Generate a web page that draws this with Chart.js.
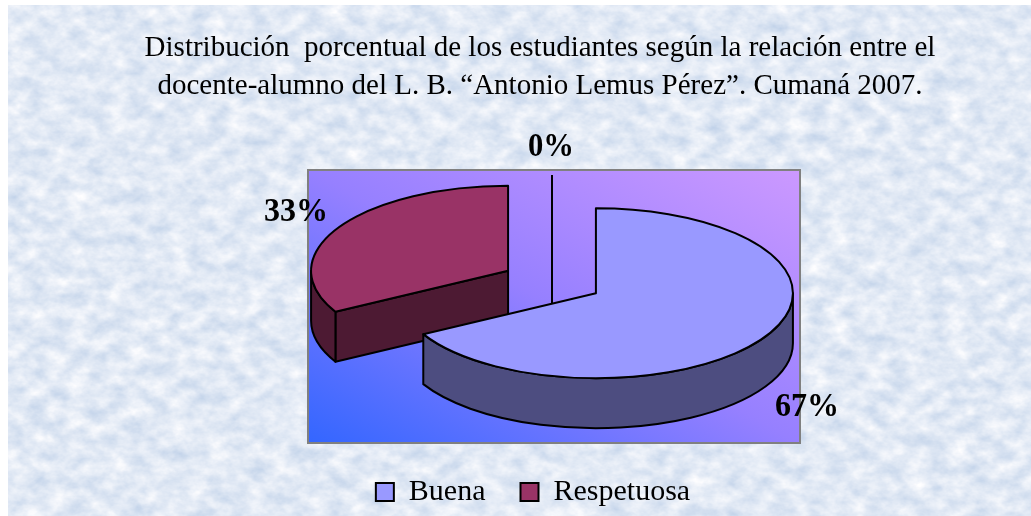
<!DOCTYPE html>
<html lang="es">
<head>
<meta charset="utf-8">
<title>Distribución porcentual</title>
<script src="https://cdn.jsdelivr.net/npm/chart.js@4"></script>
<style>
html,body{margin:0;padding:0;background:#fff;width:1031px;height:516px;overflow:hidden}
#bg{position:absolute;left:8px;top:5px;width:1023px;height:511px}
#wrap{position:absolute;left:0;top:0;width:1031px;height:516px}
</style>
</head>
<body>
<svg id="bg" xmlns="http://www.w3.org/2000/svg" width="1023" height="511">
  <filter id="mottle" x="0" y="0" width="100%" height="100%" color-interpolation-filters="sRGB">
    <feTurbulence type="fractalNoise" baseFrequency="0.05 0.07" numOctaves="4" seed="7"/>
    <feColorMatrix type="matrix" values="0.28 0 0 0 0.745  0.2 0 0 0 0.815  0.1 0 0 0 0.91  0 0 0 0 1"/>
  </filter>
  <rect width="1023" height="511" filter="url(#mottle)"/>
</svg>
<div id="wrap"><canvas id="c" width="1031" height="516"></canvas></div>
<script>
const titleLines = [
  'Distribución  porcentual de los estudiantes según la relación entre el',
  'docente-alumno del L. B. “Antonio Lemus Pérez”. Cumaná 2007.'
];
const categories = ['Buena', 'Respetuosa', ''];
const values = [67, 33, 0];
const sliceColors = ['#9999ff', '#993366', '#ffffff'];
const wallColors = ['#4d4d80', '#4d1a33', '#808080'];

const frame = {left: 308, top: 170, right: 800, bottom: 443};
const pie = {cx: 552, cy: 282, rx: 197, ry: 85, depth: 50, explode: 0.259};
const labelShift = [[211, 114], [-212, -59], [-1, -113]];
const labelWidth = [64, 64, 46];
const drawOrder = [2, 1, 0];

function sliceCentre(el) {
  const mid = (el.startAngle + el.endAngle) / 2;
  return {
    x: pie.cx + pie.rx * pie.explode * Math.cos(mid),
    y: pie.cy + pie.ry * pie.explode * Math.sin(mid)
  };
}

const pie3d = {
  id: 'pie3d',
  beforeDatasetsDraw(chart) {
    const ctx = chart.ctx;
    const w = frame.right - frame.left, h = frame.bottom - frame.top;
    const mx = frame.left + w / 2, my = frame.top + h / 2;
    const len = Math.hypot(w, h);
    const dx = h / len, dy = -w / len;
    const reach = Math.abs(-w / 2 * dx + h / 2 * dy);
    const g = ctx.createLinearGradient(mx - dx * reach, my - dy * reach, mx + dx * reach, my + dy * reach);
    g.addColorStop(0, '#3366ff');
    g.addColorStop(0.5, '#9680ff');
    g.addColorStop(1, '#cc99ff');
    ctx.save();
    ctx.fillStyle = g;
    ctx.fillRect(frame.left, frame.top, w, h);
    ctx.strokeStyle = '#808080';
    ctx.lineWidth = 2;
    ctx.strokeRect(frame.left, frame.top, w, h);

    ctx.strokeStyle = '#000';
    ctx.lineWidth = 2;
    ctx.lineJoin = 'round';
    const arcs = chart.getDatasetMeta(0).data;
    drawOrder.forEach(i => {
      const el = arcs[i];
      const c = sliceCentre(el);
      const a0 = el.startAngle, a1 = el.endAngle;
      if (a1 - a0 < 1e-6) {
        ctx.beginPath();
        ctx.moveTo(c.x + pie.rx * Math.cos(a0), c.y + pie.ry * Math.sin(a0));
        ctx.lineTo(c.x, c.y);
        ctx.lineTo(c.x, c.y + pie.depth);
        ctx.stroke();
        return;
      }
      ctx.fillStyle = wallColors[i];
      const startFront = Math.sin(a0) > 0 && Math.cos(a0) < 0;
      if (startFront) {
        const px = c.x + pie.rx * Math.cos(a0), py = c.y + pie.ry * Math.sin(a0);
        ctx.beginPath();
        ctx.moveTo(c.x, c.y);
        ctx.lineTo(px, py);
        ctx.lineTo(px, py + pie.depth);
        ctx.lineTo(c.x, c.y + pie.depth);
        ctx.closePath();
        ctx.fill();
        ctx.stroke();
      }
      const lo = Math.max(a0, 0), hi = Math.min(a1, Math.PI);
      if (hi > lo) {
        ctx.beginPath();
        ctx.ellipse(c.x, c.y, pie.rx, pie.ry, 0, lo, hi, false);
        ctx.ellipse(c.x, c.y + pie.depth, pie.rx, pie.ry, 0, hi, lo, true);
        ctx.closePath();
        ctx.fill();
        ctx.stroke();
      }
      ctx.fillStyle = sliceColors[i];
      ctx.beginPath();
      ctx.moveTo(c.x, c.y);
      ctx.ellipse(c.x, c.y, pie.rx, pie.ry, 0, a0, a1, false);
      ctx.closePath();
      ctx.fill();
      ctx.stroke();
    });
    ctx.restore();
    return false;
  },
  afterDraw(chart) {
    const ctx = chart.ctx;
    const arcs = chart.getDatasetMeta(0).data;
    ctx.save();
    ctx.font = 'bold 34px "Liberation Serif"';
    ctx.fillStyle = '#000';
    ctx.textAlign = 'center';
    ctx.textBaseline = 'middle';
    arcs.forEach((el, i) => {
      const c = sliceCentre(el);
      ctx.fillText(values[i] + '%', c.x + labelShift[i][0], c.y + labelShift[i][1], labelWidth[i]);
    });
    ctx.restore();
  },
  afterLayout(chart) {
    chart.legend.left -= 7;
    chart.legend.right -= 7;
    chart.legend.top += 5;
    chart.legend.bottom += 5;
  }
};

new Chart(document.getElementById('c'), {
  type: 'pie',
  data: {
    labels: categories,
    datasets: [{
      data: values,
      backgroundColor: sliceColors,
      borderColor: '#000',
      borderWidth: 2
    }]
  },
  plugins: [pie3d],
  options: {
    responsive: false,
    animation: false,
    layout: {padding: {left: 49, top: 29, bottom: 4}},
    plugins: {
      tooltip: {enabled: false},
      title: {
        display: true,
        text: titleLines,
        color: '#000',
        font: {family: '"Liberation Serif"', size: 29, weight: 'normal', lineHeight: 1.31},
        padding: 0
      },
      legend: {
        display: true,
        position: 'bottom',
        labels: {
          color: '#000',
          font: {family: '"Liberation Serif"', size: 30},
          boxWidth: 18,
          boxHeight: 18,
          padding: 35,
          filter: item => item.text !== ''
        }
      }
    }
  }
});
</script>
</body>
</html>
